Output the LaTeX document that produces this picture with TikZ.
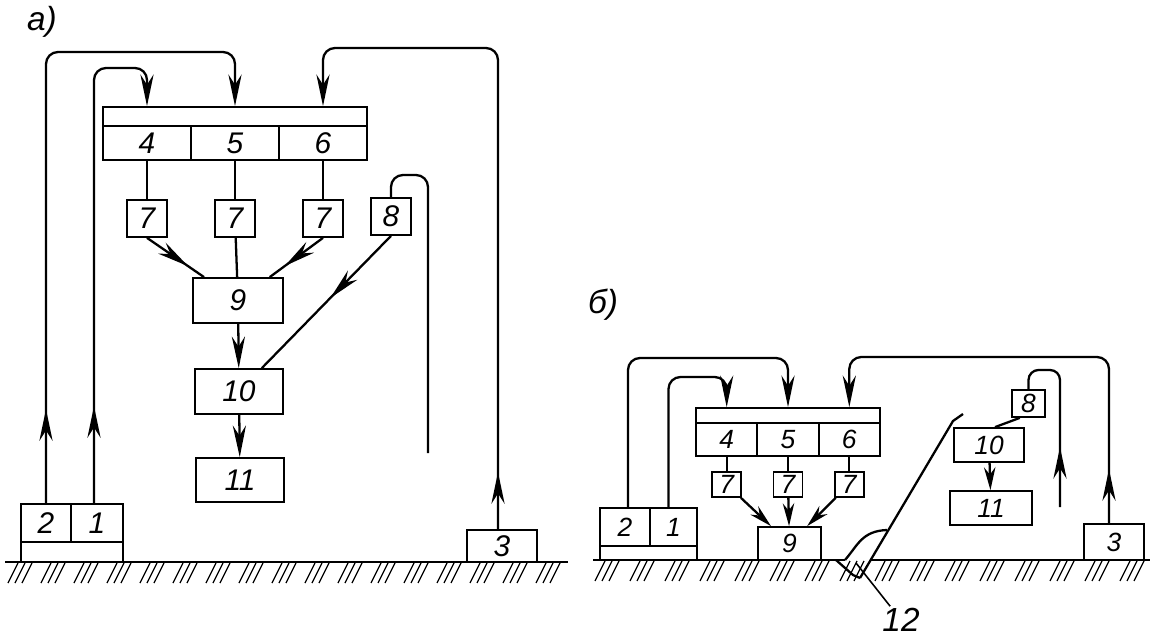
\documentclass[tikz,border=0pt]{standalone}
\usepackage{fontspec}
\setmainfont{Liberation Sans}
\usetikzlibrary{positioning,arrows.meta,calc,decorations.markings}
\tikzset{
  bigtip/.tip={Stealth[length=18pt,width=7.5pt]},
  smtip/.tip ={Stealth[length=13pt,width=6.5pt]},
  sz/.style 2 args={minimum width=#1*0.02cm, minimum height=#2*0.02cm},
  blk/.style ={draw, line width=1pt, inner sep=0pt,
               font=\itshape\fontsize{17}{19}\selectfont},
  sblk/.style={blk, font=\itshape\fontsize{15}{17}\selectfont},
  tag/.style ={inner sep=1pt, font=\itshape\fontsize{19}{21}\selectfont},
  link/.style={line width=1.3pt, rounded corners=0.24cm},
  % arrow head in the middle of a connector
  midarr/.style={decoration={markings, mark=at position #1 with {\arrow{bigtip}}},
                 postaction={decorate}},
  gnd/.style  ={line width=1.3pt},
  hatch/.style={line width=0.7pt},
  lead/.style ={line width=0.9pt},
}
\begin{document}
\begin{tikzpicture}[x=0.02cm,y=-0.02cm]
\useasboundingbox (0,0) rectangle (1156,638);
% --- a) ---
\node[tag] (laba) at (42,22) {а)};
\node[blk,sz={264}{19}] (astrip) at (235,116.5) {};
\foreach \n/\x in {4/147,5/235,6/323}
  {\node[blk,sz={88}{34}] (a\n) at (\x,143) {\n};}
\foreach \s/\x in {l/147,m/235,r/323}
  {\node[blk,sz={40}{37}] (a7\s) at (\x,218.5) {7};}
\node[blk,sz={40}{37}] (a8) at (391,216.5) {8};
\node[blk,sz={90}{45}] (a9) at (238,300.5) {9};
\node[blk,sz={88}{45}] (a10) at (239,391.5) {10};
\node[blk,sz={88}{44}] (a11) at (240,480) {11};
\node[blk,sz={50}{38}] (a2) at (46,523) {2};
\node[blk,sz={52}{38}] (a1) at (97,523) {1};
\node[blk,sz={102}{20}] (abase) at (72,552) {};
\node[blk,sz={70}{32}] (a3) at (502,546) {3};
\coordinate (a8end) at (428,453);
\foreach \n/\s in {4/l,5/m,6/r}
  {\draw[link] (a\n) -- (a7\s);}
\draw[link,midarr=0.72] (a7l.south) -- (a9);
\draw[link] (a7m) -- (a9);
\draw[link,midarr=0.72] (a7r.south) -- (a9);
\draw[link,midarr=0.47] (a8.south) -- (a10);
\draw[link,-{bigtip}] (a9) -- (a10);
\draw[link,-{bigtip}] (a10) -- (a11);
\draw[link,midarr=1.88cm,-{bigtip}] (a2.north) |- (a5.north |- 0,52) -- (a5 |- astrip.north);
\draw[link,midarr=1.94cm,-{bigtip}] ([xshift=-0.06cm]a1.north) |- (a4.north |- 0,68) -- (a4 |- astrip.north);
\draw[link,midarr=1.14cm,-{bigtip}] ([xshift=-0.08cm]a3.north) |- (a6.north |- 0,48) -- (a6 |- astrip.north);
\draw[link] (a8.north) |- (a8end |- 0,175) -- (a8end);
% ground a
\draw[gnd] (5,562) -- (568,562);
\foreach \g in {0,...,16}
  {\foreach \k in {0,1,2}
    {\draw[hatch] ({8+33*\g+7*\k},583) -- ++(10,-20);}}
% --- b) ---
\node[tag] (labb) at (603,305) {б)};
\node[sblk,sz={184}{15}] (bstrip) at (788,415.5) {};
\foreach \n/\x in {4/726.7,5/788,6/849.3}
  {\node[sblk,sz={61.3}{33}] (b\n) at (\x,439.5) {\n};}
\foreach \s/\x in {l/726.7,m/788,r/849.3}
  {\node[sblk,sz={29}{25}] (b7\s) at (\x,484.5) {7};}
\node[sblk,sz={63}{33}] (b9) at (789.5,543.5) {9};
\node[sblk,sz={50}{38}] (b2) at (625,527) {2};
\node[sblk,sz={47}{38}] (b1) at (673.5,527) {1};
\node[sblk,sz={97}{14}] (bbase) at (648.5,553) {};
\node[sblk,sz={60}{36}] (b3) at (1114,542) {3};
\node[sblk,sz={33}{27}] (b8) at (1028.5,403.5) {8};
\node[sblk,sz={70}{34}] (b10) at (989,445) {10};
\node[sblk,sz={82}{34}] (b11) at (991,508) {11};
\coordinate (b8end) at (1060,507);
\foreach \n/\s in {4/l,5/m,6/r}
  {\draw[link] (b\n) -- (b7\s);}
\foreach \s in {l,m,r}
  {\draw[link,-{smtip}] (b7\s) -- (b9);}
\draw[link,-{smtip}] (b10) -- (b11);
\draw[link] ($(b8.south west)!0.25!(b8.south east)$) -- ($(b10.north)+(6,0)$);
\draw[link,midarr=1.2cm,rounded corners=0.2cm] (b8end) -- (b8end |- 0,370) -| (b8.north);
\draw[link,-{bigtip}] ([xshift=0.06cm]b2.north) |- (b5.north |- 0,358) -- (b5 |- bstrip.north);
\draw[link,-{bigtip}] ([xshift=-0.1cm]b1.north) |- (b4.north |- 0,377) -- (b4 |- bstrip.north);
\draw[link,midarr=1.08cm,-{bigtip}] ([xshift=-0.1cm]b3.north) |- (b6.north |- 0,357) -- (b6 |- bstrip.north);
% ground b with the cut 12
\draw[gnd] (593,560) -- (845,560);
\draw[gnd] (870,560) -- (1150,560);
\draw[gnd] (963,414) -- (953,421) -- (860,578);
\draw[gnd] (845,560) .. controls (858,545) and (862,531) .. (887,530);
\draw[gnd] (836,560) -- (853,575) -- (860,578);
\foreach \g in {0,...,15}
  {\foreach \k in {0,1,2}
    {\draw[hatch] ({595+35*\g+7*\k},581) -- ++(10,-20);}}
\coordinate (cut) at (856,563);
\node[tag] (l12) at (901,620) {12};
\draw[lead] (cut) -- (l12);
\end{tikzpicture}
\end{document}
